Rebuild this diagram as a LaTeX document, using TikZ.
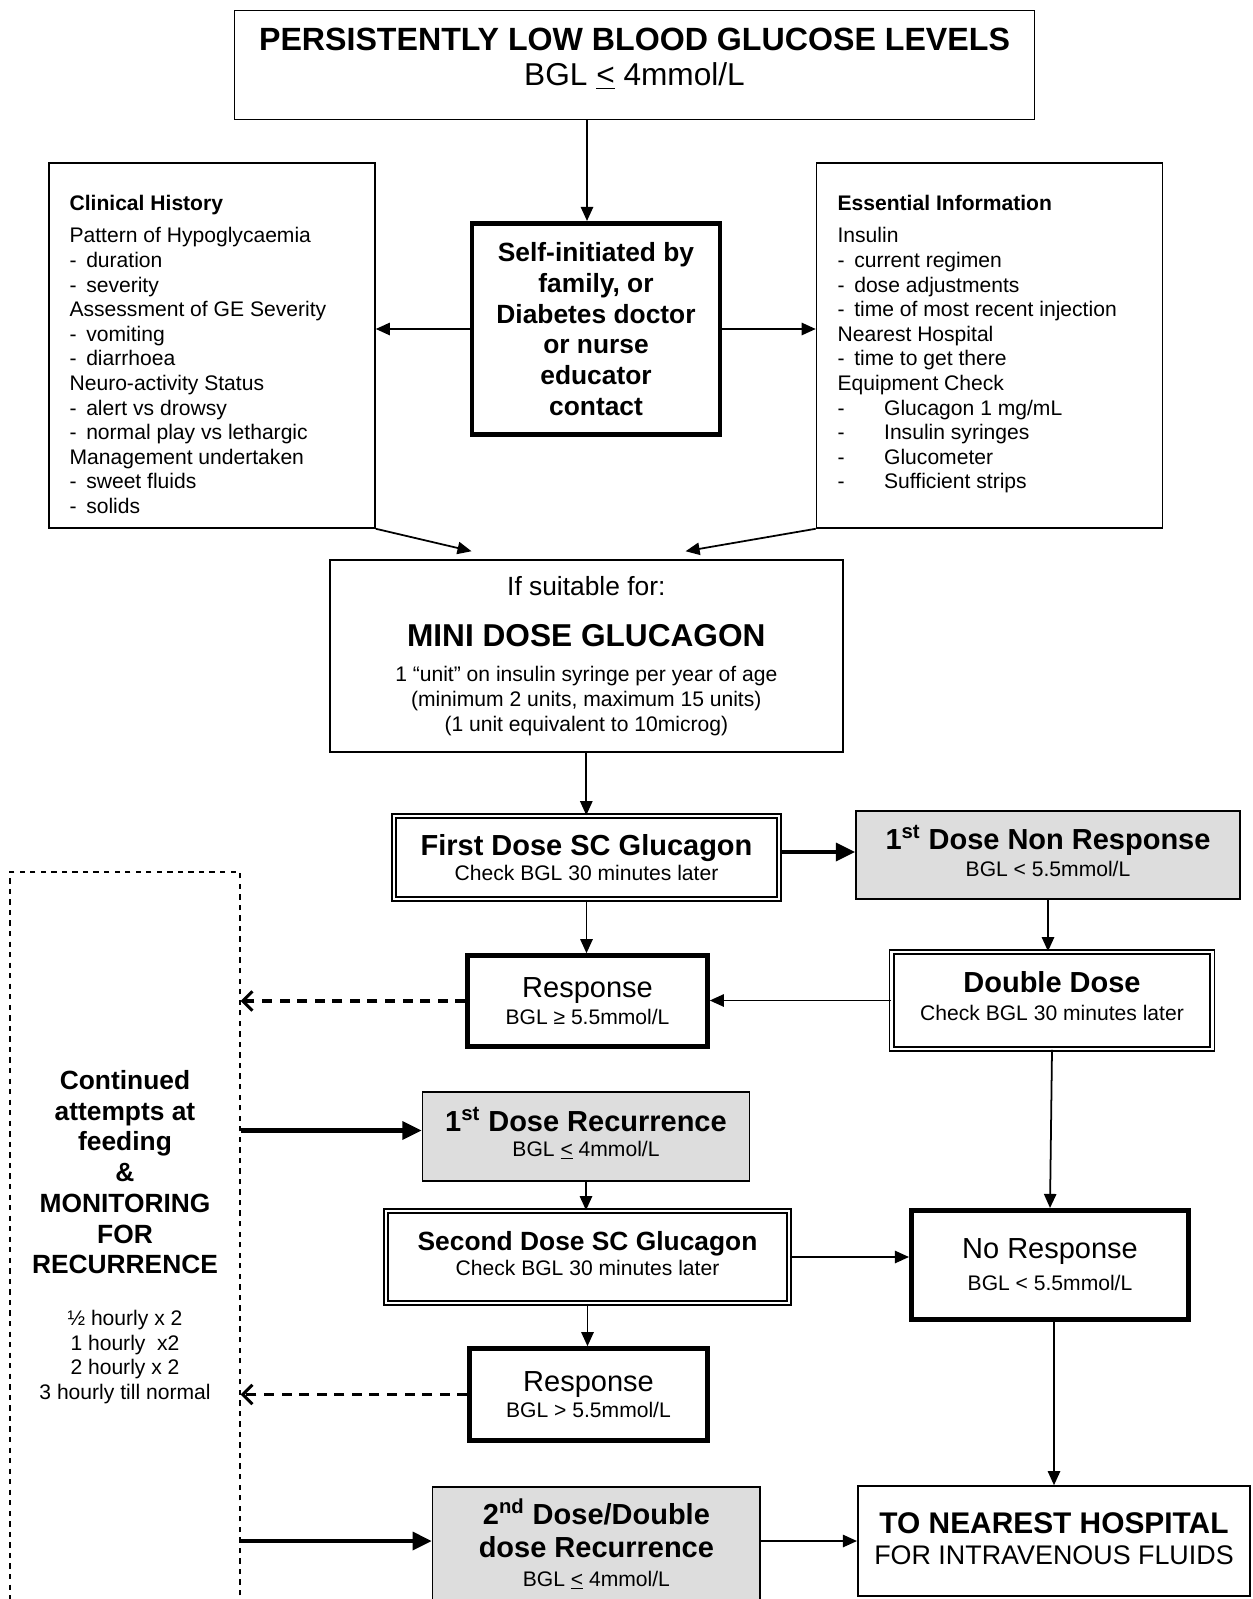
\documentclass[tikz,border=0pt]{standalone}
\usepackage{fontspec}
\setmainfont{Liberation Sans}
\usetikzlibrary{arrows.meta,positioning}
\definecolor{boxgrey}{RGB}{221,221,221}
\tikzstyle{plainbox} = [rectangle, draw=black, line width=0.9pt, inner sep=0pt, align=center]
\tikzstyle{heavybox} = [rectangle, draw=black, line width=2.6pt, inner sep=0pt, align=center]
\tikzstyle{doublebox} = [rectangle, draw=black, double, line width=0.9pt, double distance=1.5pt, inner sep=0pt, align=center]
\tikzstyle{greybox} = [plainbox, fill=boxgrey]
\tikzstyle{dashbox} = [rectangle, draw=black, dashed, line width=0.8pt]
\tikzstyle{listtext} = [align=left, inner sep=0pt, font=\fontsize{12}{14}\selectfont]
\tikzstyle{arrow} = [line width=1pt, -{Triangle[length=8pt,width=7pt]}]
\tikzstyle{fatarrow} = [line width=2.6pt, -{Triangle[length=11pt,width=10pt]}]
\tikzstyle{dasharrow} = [line width=1.8pt, dash pattern=on 5.7pt off 4.3pt, -{Straight Barb[length=5.5pt,width=11pt,line width=1.7pt]}]
\newcommand{\dashitem}[1]{\makebox[9.5pt][l]{-}#1}
\newcommand{\wideitem}[1]{\makebox[26.5pt][l]{-}#1}

\begin{document}
\begin{tikzpicture}[x=0.02cm, y=-0.02cm]
\useasboundingbox (0,0) rectangle (1252,1599);

% Top of the chart
\node[plainbox, minimum width=16cm, minimum height=2.18cm, text depth=9.2pt, font=\fontsize{18}{20.2}\selectfont] (low) at (634.5,65) {{\bfseries\fontsize{18.3}{20.2}\selectfont PERSISTENTLY LOW BLOOD GLUCOSE LEVELS}\\BGL \underline{<} 4mmol/L};
\node[heavybox, minimum width=4.96cm, minimum height=4.23cm, font=\fontsize{15}{17.5}\selectfont\bfseries] (self) at (596,329) {Self-initiated by\\family, or\\Diabetes doctor\\or nurse\\educator\\contact};

% Side boxes
\node[plainbox, minimum width=6.52cm, minimum height=7.3cm] (clin) at (212,345.5) {};
\node[listtext, anchor=north west] (clintext) at ([xshift=0.42cm,yshift=-0.66cm]clin.north west) {\textbf{Clinical History}\\[4.2pt]
Pattern of Hypoglycaemia\\ \dashitem{duration}\\ \dashitem{severity}\\
Assessment of GE Severity\\ \dashitem{vomiting}\\ \dashitem{diarrhoea}\\
Neuro-activity Status\\ \dashitem{alert vs drowsy}\\ \dashitem{normal play vs lethargic}\\
Management undertaken\\ \dashitem{sweet fluids}\\ \dashitem{solids}};
\node[plainbox, minimum width=6.92cm, minimum height=7.3cm] (info) at (989.5,345.5) {};
\node[listtext, anchor=north west] (infotext) at ([xshift=0.43cm,yshift=-0.66cm]info.north west) {\textbf{Essential Information}\\[4.2pt]
Insulin\\ \dashitem{current regimen}\\ \dashitem{dose adjustments}\\ \dashitem{time of most recent injection}\\
Nearest Hospital\\ \dashitem{time to get there}\\
Equipment Check\\ \wideitem{Glucagon 1 mg/mL}\\ \wideitem{Insulin syringes}\\ \wideitem{Glucometer}\\ \wideitem{Sufficient strips}};

% Mini dose
\node[plainbox, minimum width=10.26cm, minimum height=3.84cm, font=\fontsize{12}{14}\selectfont] (mini) at (586.3,656) {{\fontsize{15}{17}\selectfont If suitable for:}\\[15pt]{\bfseries\fontsize{18}{21}\selectfont MINI DOSE GLUCAGON}\\[6pt]1 “unit” on insulin syringe per year of age\\(minimum 2 units, maximum 15 units)\\(1 unit equivalent to 10microg)};

% First dose and response
\node[doublebox, minimum width=7.7cm, minimum height=1.66cm, font=\fontsize{12}{14.4}\selectfont] (first) at (586.5,857.5) {{\bfseries\fontsize{16.5}{19}\selectfont First Dose SC Glucagon}\\Check BGL 30 minutes later};
\node[greybox, minimum width=7.68cm, minimum height=1.76cm, text depth=4.8pt, font=\fontsize{12}{15.5}\selectfont] (nonr) at (1048,855) {{\bfseries\fontsize{16.5}{19}\selectfont 1\textsuperscript{st} Dose Non Response}\\BGL < 5.5mmol/L};
\node[heavybox, minimum width=4.8cm, minimum height=1.82cm, font=\fontsize{12}{15}\selectfont] (resp1) at (587.5,1001) {{\fontsize{16.5}{19}\selectfont Response}\\BGL ≥ 5.5mmol/L};
\node[doublebox, minimum width=6.41cm, minimum height=1.94cm, text depth=4.8pt, font=\fontsize{12}{15.8}\selectfont] (dbl) at (1052,1000.5) {{\bfseries\fontsize{16.5}{19}\selectfont Double Dose}\\Check BGL 30 minutes later};

% Recurrence and second dose
\node[greybox, minimum width=6.54cm, minimum height=1.78cm, text depth=5.6pt, font=\fontsize{12}{14.4}\selectfont] (rec1) at (586,1136.5) {{\bfseries\fontsize{16.5}{19}\selectfont 1\textsuperscript{st} Dose Recurrence}\\BGL \underline{<} 4mmol/L};
\node[doublebox, minimum width=8.06cm, minimum height=1.84cm, text depth=4.2pt, font=\fontsize{12}{14.4}\selectfont] (sec) at (587.5,1257) {{\bfseries\fontsize{15}{17}\selectfont Second Dose SC Glucagon}\\Check BGL 30 minutes later};
\node[heavybox, minimum width=5.55cm, minimum height=2.19cm, font=\fontsize{12}{18.2}\selectfont] (nor) at (1050,1265) {{\fontsize{16.5}{19}\selectfont No Response}\\BGL < 5.5mmol/L};
\node[heavybox, minimum width=4.76cm, minimum height=1.84cm, font=\fontsize{12}{14.6}\selectfont] (resp2) at (588.5,1394.5) {{\fontsize{16.5}{19}\selectfont Response}\\BGL > 5.5mmol/L};

% Bottom row
\node[greybox, minimum width=6.55cm, minimum height=2.28cm, font=\fontsize{16.5}{19}\selectfont\bfseries] (rec2) at (596.4,1544) {2\textsuperscript{nd} Dose/Double\\dose Recurrence\\[-2.8pt]{\mdseries\fontsize{12}{14}\selectfont BGL \underline{<} 4mmol/L}};
\node[plainbox, minimum width=7.85cm, minimum height=2.2cm, text depth=3.1pt, font=\fontsize{15.3}{17.4}\selectfont] (hosp) at (1054,1541) {{\bfseries\fontsize{17}{19}\selectfont TO NEAREST HOSPITAL}\\FOR INTRAVENOUS FLUIDS};

% Monitoring column
\node[dashbox, minimum width=4.6cm, minimum height=15.56cm] (mon) at (125,1261) {};
\node[align=center, font=\fontsize{15}{17.5}\selectfont\bfseries] (montext) at (125,1237) {Continued\\attempts at\\feeding\\\&\\MONITORING\\FOR\\RECURRENCE\\[12pt]
{\mdseries\fontsize{12}{14}\selectfont ½ hourly x 2}\\[-3.5pt]{\mdseries\fontsize{12}{14}\selectfont 1 hourly\ \ x2}\\[-3.5pt]{\mdseries\fontsize{12}{14}\selectfont 2 hourly x 2}\\[-3.5pt]{\mdseries\fontsize{12}{14}\selectfont 3 hourly till normal}};

% Connections
\coordinate (selfin) at ([xshift=-0.18cm]self.north);
\coordinate (miniin1) at ([xshift=2.85cm,yshift=0.16cm]mini.north west);
\coordinate (miniin2) at ([xshift=-3.16cm,yshift=0.16cm]mini.north east);
\coordinate (firstout) at ([yshift=0.11cm]first.east);
\coordinate (recin) at ([yshift=0.12cm]rec1.west);
\draw[arrow] (selfin |- low.south) -- (selfin);
\draw[arrow] (self.west) -- (self.west -| clin.east);
\draw[arrow] (self.east) -- (self.east -| info.west);
\draw[arrow] (clin.south east) -- (miniin1);
\draw[arrow] (info.south west) -- (miniin2);
\draw[arrow] (mini.south) -- (mini.south |- first.north);
\draw[fatarrow] (firstout) -- (firstout -| nonr.west);
\draw[arrow] (first.south) -- (first.south |- resp1.north);
\draw[arrow] (nonr.south) -- (nonr.south |- dbl.north);
\draw[arrow] (dbl.west) -- (dbl.west -| resp1.east);
\draw[dasharrow] (resp1.west) -- (resp1.west -| mon.east);
\draw[arrow] (dbl.south) -- (nor.north);
\draw[fatarrow] (mon.east |- recin) -- (recin);
\draw[arrow] (rec1.south) -- (rec1.south |- sec.north);
\draw[arrow] (sec.east) -- (sec.east -| nor.west);
\draw[arrow] (sec.south) -- (sec.south |- resp2.north);
\draw[dasharrow] (resp2.west) -- (resp2.west -| mon.east);
\draw[arrow] (hosp.north |- nor.south) -- (hosp.north);
\draw[fatarrow] (mon.east |- hosp.west) -- (rec2.west |- hosp.west);
\draw[arrow] (rec2.east |- hosp.west) -- (hosp.west);
\end{tikzpicture}
\end{document}
